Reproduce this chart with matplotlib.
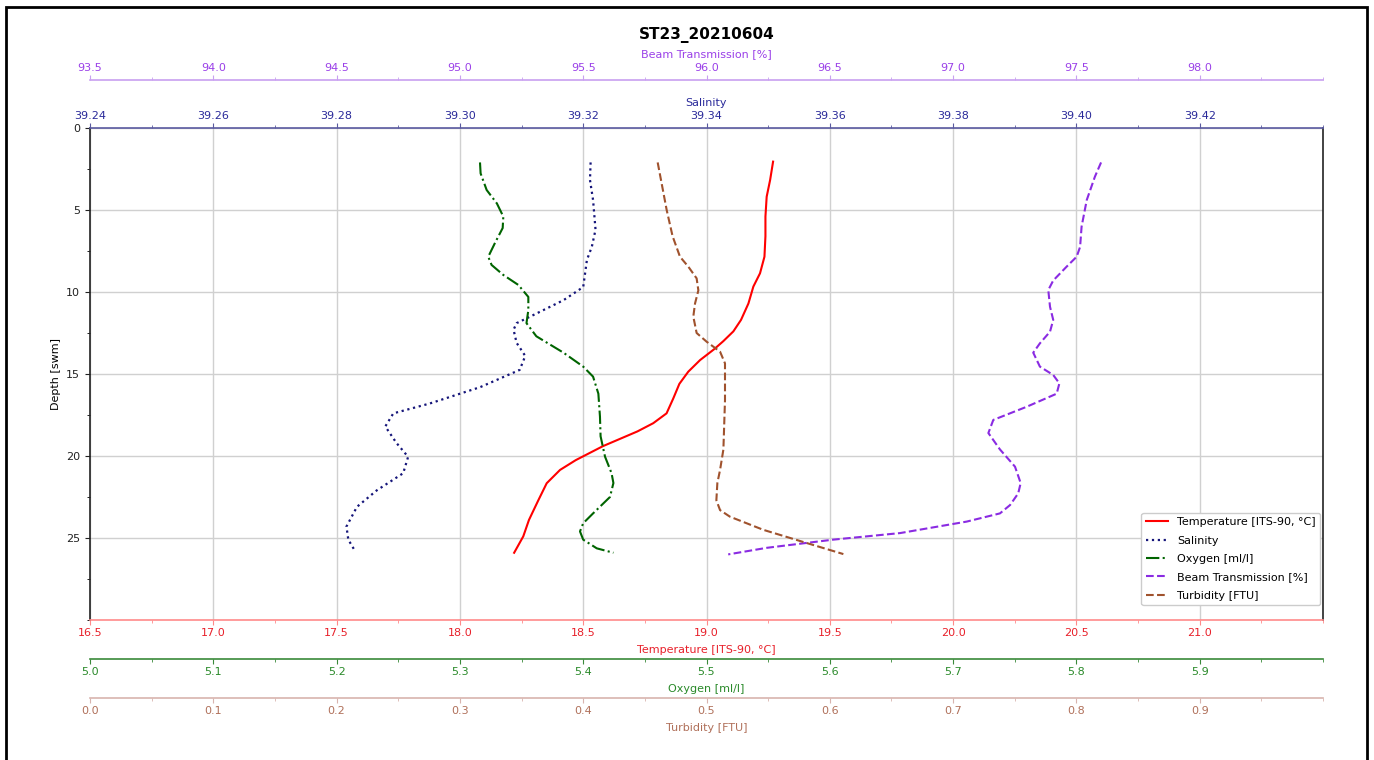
import matplotlib
matplotlib.use("Agg")
import matplotlib.pyplot as plt
from matplotlib.ticker import FixedLocator, AutoMinorLocator, FormatStrFormatter, MultipleLocator
from matplotlib.patches import Rectangle

# --- profile data (depth in m) ---
temp_depth = [2.05, 3.17, 4.19, 5.4, 6.6, 7.85, 8.86, 9.67, 10.7, 11.7, 12.4, 13.0, 13.5,
              14.15, 14.86, 15.6, 16.5, 17.4, 18.0, 18.5, 19.4, 20.25, 20.85, 21.66,
              22.7, 23.9, 24.9, 25.9]
temperature = [19.27, 19.258, 19.244, 19.239, 19.239, 19.235, 19.217, 19.19, 19.17,
               19.14, 19.109, 19.068, 19.03, 18.974, 18.926, 18.89, 18.865, 18.838,
               18.784, 18.72, 18.58, 18.47, 18.406, 18.352, 18.318, 18.28, 18.257, 18.22]

sal_depth = [2.1, 3.17, 4.39, 6.2, 7.24, 8.05, 9.7, 10.5, 11.5, 11.9, 12.3, 13.1, 13.9,
             14.75, 15.8, 16.8, 17.4, 18.2, 19.2, 20.05, 21.05, 22.1, 23.1, 24.3, 25.1, 25.8]
salinity = [39.3212, 39.3211, 39.3216, 39.3220, 39.3214, 39.3206, 39.3200, 39.3168,
            39.3114, 39.3092, 39.3087, 39.3092, 39.3106, 39.3097, 39.3033, 39.2951,
            39.2892, 39.2879, 39.2897, 39.2916, 39.2908, 39.2865, 39.2833, 39.2816,
            39.2819, 39.2830]

oxy_depth = [2.1, 2.77, 3.78, 4.6, 5.4, 6.1, 7.0, 7.85, 8.35, 8.96, 9.57, 10.3, 11.1,
             11.9, 12.7, 13.7, 14.55, 15.16, 16.2, 17.6, 18.8, 20.04, 21.05, 21.65, 22.5,
             23.5, 24.1, 24.6, 25.1, 25.63, 25.9]
oxygen = [5.3163, 5.3168, 5.3217, 5.330, 5.3352, 5.3347, 5.3285, 5.323, 5.3257, 5.3352,
          5.3474, 5.3555, 5.3555, 5.354, 5.362, 5.384, 5.400, 5.408, 5.4123, 5.4136,
          5.4141, 5.4177, 5.423, 5.4245, 5.4217, 5.408, 5.400, 5.3974, 5.400, 5.411,
          5.4245]

beam_depth = [2.1, 2.97, 4.39, 6.02, 7.25, 7.85, 8.46, 9.3, 9.88, 10.9, 11.7, 12.42,
              13.13, 13.7, 14.55, 15.06, 15.57, 16.2, 17.0, 17.8, 18.6, 19.6, 20.65,
              21.65, 22.28, 22.99, 23.5, 24.0, 24.7, 25.1, 25.6, 26.0]
beam = [97.60, 97.575, 97.542, 97.521, 97.515, 97.501, 97.46, 97.406, 97.386, 97.393,
        97.406, 97.393, 97.352, 97.325, 97.352, 97.406, 97.431, 97.42, 97.298, 97.163,
        97.143, 97.19, 97.251, 97.274, 97.264, 97.231, 97.19, 97.055, 96.785, 96.514,
        96.244, 96.088]

turb_depth = [2.1, 3.37, 5.0, 6.6, 7.85, 8.46, 9.17, 9.9, 10.7, 11.5, 12.5, 13.03, 13.64,
              14.35, 16.6, 19.6, 20.85, 21.65, 22.7, 23.3, 23.7, 24.5, 25.3, 25.98]
turbidity = [0.4604, 0.4636, 0.4677, 0.4725, 0.4785, 0.4853, 0.492, 0.4934, 0.4907,
             0.4893, 0.492, 0.5001, 0.511, 0.515, 0.515, 0.5137, 0.511, 0.5088, 0.508,
             0.511, 0.519, 0.546, 0.581, 0.611]

# --- axis ranges and tick labels ---
depth_range = (30, 0)
temp_range = (16.5, 21.5)
sal_range = (39.24, 39.44)
beam_range = (93.5, 98.5)
oxy_range = (5.0, 6.0)
turb_range = (0.0, 1.0)

temp_ticks = [16.5, 17.0, 17.5, 18.0, 18.5, 19.0, 19.5, 20.0, 20.5, 21.0]
sal_ticks = [39.24, 39.26, 39.28, 39.30, 39.32, 39.34, 39.36, 39.38, 39.40, 39.42]
beam_ticks = [93.5, 94.0, 94.5, 95.0, 95.5, 96.0, 96.5, 97.0, 97.5, 98.0]
oxy_ticks = [5.0, 5.1, 5.2, 5.3, 5.4, 5.5, 5.6, 5.7, 5.8, 5.9]
turb_ticks = [0.0, 0.1, 0.2, 0.3, 0.4, 0.5, 0.6, 0.7, 0.8, 0.9]
depth_ticks = [0, 5, 10, 15, 20, 25]

title = "ST23_20210604"

# colours
c_temp, c_temp_ax, c_temp_sp = "#ff0000", "#e8202a", "#ff8a8a"
c_sal, c_sal_ax, c_sal_sp = "#15157a", "#2a2a9a", "#5a5aa0"
c_oxy, c_oxy_ax, c_oxy_sp = "#006400", "#2a8a2a", "#3a8a3a"
c_beam, c_beam_ax, c_beam_sp = "#8a2be2", "#9a40e8", "#c8a0f0"
c_turb, c_turb_ax, c_turb_sp = "#a0522d", "#b0705a", "#d8b4ae"

FS = 8
plt.rcParams["font.family"] = ["DejaVu Sans"]
plt.rcParams["font.size"] = FS

W, H = 1374, 760
fig = plt.figure(figsize=(W / 100, H / 100), dpi=100)
fig.patch.set_facecolor("white")

ax = fig.add_axes([90 / W, 1 - 620 / H, 1233 / W, 492 / H])

# outer frame around the figure
fig.patches.append(Rectangle((6 / W, -0.05), (1367 - 6) / W, 1.05 - 7 / H,
                             transform=fig.transFigure, fill=False,
                             edgecolor="black", linewidth=2.0))

# main axis: temperature on the bottom
l_temp, = ax.plot(temperature, temp_depth, color=c_temp, lw=1.5,
                  label="Temperature [ITS-90, °C]")
ax.set_ylim(*depth_range)
ax.set_xlim(*temp_range)
ax.yaxis.set_major_locator(FixedLocator(depth_ticks))
ax.yaxis.set_minor_locator(MultipleLocator(2.5))
ax.set_ylabel("Depth [swm]", fontsize=FS)
ax.grid(True, which="major", color="#d0d0d0", lw=1.0)
ax.set_axisbelow(True)
ax.spines["top"].set_visible(False)
ax.spines["left"].set_color("#222222")
ax.spines["right"].set_color("#222222")
ax.spines["left"].set_linewidth(1.2)
ax.spines["right"].set_linewidth(1.2)


def style_x(a, lim, ticks, fmt, color, spine_color, label, side, offset=0.0):
    a.set_xlim(*lim)
    a.xaxis.set_major_locator(FixedLocator(ticks))
    a.xaxis.set_minor_locator(AutoMinorLocator(2))
    a.xaxis.set_major_formatter(FormatStrFormatter(fmt))
    a.xaxis.set_ticks_position(side)
    a.xaxis.set_label_position(side)
    pad = 1.5 if side == "top" else 2.5
    lpad = 4.0 if side == "top" else 5.0
    a.tick_params(axis="x", which="both", colors=spine_color, labelcolor=color,
                  labelsize=FS, pad=pad)
    a.set_xlabel(label, color=color, fontsize=FS, labelpad=lpad)
    for s in ("top", "bottom", "left", "right"):
        if a is not ax:
            a.spines[s].set_visible(s == side)
    a.spines[side].set_color(spine_color)
    a.spines[side].set_linewidth(1.2)
    if offset:
        a.spines[side].set_position(("outward", offset))


style_x(ax, temp_range, temp_ticks, "%.1f", c_temp_ax, c_temp_sp,
        "Temperature [ITS-90, °C]", "bottom")
ax.tick_params(axis="y", labelsize=FS, colors="#222222")

ax_sal = ax.twiny()
l_sal, = ax_sal.plot(salinity, sal_depth, color=c_sal, lw=1.6, ls=":", label="Salinity")
style_x(ax_sal, sal_range, sal_ticks, "%.2f", c_sal_ax, c_sal_sp, "Salinity", "top")

ax_beam = ax.twiny()
style_x(ax_beam, beam_range, beam_ticks, "%.1f", c_beam_ax, c_beam_sp,
        "Beam Transmission [%]", "top", offset=34.5)

ax_oxy = ax.twiny()
style_x(ax_oxy, oxy_range, oxy_ticks, "%.1f", c_oxy_ax, c_oxy_sp,
        "Oxygen [ml/l]", "bottom", offset=28.1)

ax_turb = ax.twiny()
style_x(ax_turb, turb_range, turb_ticks, "%.1f", c_turb_ax, c_turb_sp,
        "Turbidity [FTU]", "bottom", offset=56.2)

l_oxy, = ax_oxy.plot(oxygen, oxy_depth, color=c_oxy, lw=1.5, ls="-.",
                     label="Oxygen [ml/l]")
l_beam, = ax_beam.plot(beam, beam_depth, color=c_beam, lw=1.5, ls="--",
                       label="Beam Transmission [%]")
l_turb, = ax_turb.plot(turbidity, turb_depth, color=c_turb, lw=1.5, ls="--",
                       label="Turbidity [FTU]")

for a in (ax_sal, ax_beam, ax_oxy, ax_turb):
    a.set_ylim(*depth_range)

handles = [l_temp, l_sal, l_oxy, l_beam, l_turb]
leg = ax_turb.legend(handles=handles, labels=[h.get_label() for h in handles],
                     loc="lower right", bbox_to_anchor=(1 - 3 / 1233, 15 / 492),
                     borderaxespad=0.0, labelspacing=0.75,
                     fontsize=FS, frameon=True, framealpha=1.0,
                     edgecolor="#cccccc")
leg.set_zorder(10)

fig.text((90 + 1233 / 2) / W, 1 - 35 / H, title, ha="center", va="center",
         fontsize=11, fontweight="bold")

fig.savefig("out.png", dpi=100, facecolor="white")
